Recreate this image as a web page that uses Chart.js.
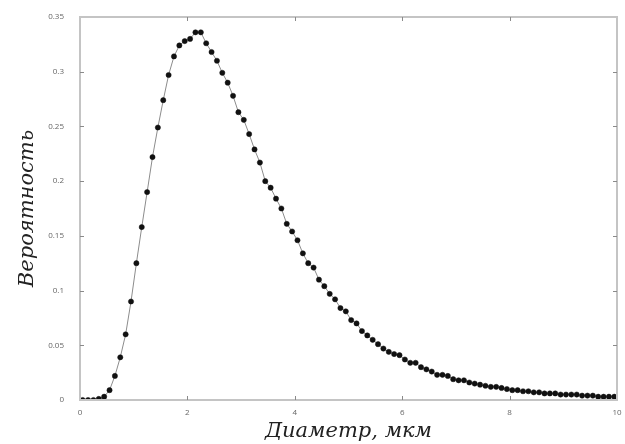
<!DOCTYPE html>
<html>
<head>
<meta charset="utf-8">
<script src="https://cdn.jsdelivr.net/npm/chart.js@4/dist/chart.umd.min.js"></script>
<style>
  html, body { margin: 0; padding: 0; background: #fff; }
  #wrap { width: 625px; height: 444px; }
</style>
</head>
<body>
<div id="wrap"><canvas id="out"></canvas></div>
<script>
// диаметр частиц, мкм (центры интервалов 0.05 ... 9.95)
const diameters = [];
for (let i = 0; i < 100; i++) diameters.push(+(0.05 + i * 0.1).toFixed(2));

// вероятность
const probability = [
	0, 0, 0, 0.001, 0.003, 0.009, 0.022, 0.039, 0.060, 0.090,
	0.125, 0.158, 0.190, 0.222, 0.249, 0.274, 0.297, 0.314, 0.324, 0.328,
	0.330, 0.336, 0.336, 0.326, 0.318, 0.310, 0.299, 0.290, 0.278, 0.263,
	0.256, 0.243, 0.229, 0.217, 0.200, 0.194, 0.184, 0.175, 0.161, 0.154,
	0.146, 0.134, 0.125, 0.121, 0.110, 0.104, 0.097, 0.092, 0.084, 0.081,
	0.073, 0.070, 0.063, 0.059, 0.055, 0.051, 0.047, 0.044, 0.042, 0.041,
	0.037, 0.034, 0.034, 0.030, 0.028, 0.026, 0.023, 0.023, 0.022, 0.019,
	0.018, 0.018, 0.016, 0.015, 0.014, 0.013, 0.012, 0.012, 0.011, 0.010,
	0.009, 0.009, 0.008, 0.008, 0.007, 0.007, 0.006, 0.006, 0.006, 0.005,
	0.005, 0.005, 0.005, 0.004, 0.004, 0.004, 0.003, 0.003, 0.003, 0.003
];

const xTicks = [0, 2, 4, 6, 8, 10];
const yTicks = [0, 0.05, 0.1, 0.15, 0.2, 0.25, 0.3, 0.35];

const points = diameters.map((d, i) => ({ x: d, y: probability[i] }));

// рамка и короткие засечки внутрь со всех сторон
const framePlugin = {
	id: "frame",
	afterDatasetsDraw(chart) {
		const ctx = chart.ctx;
		const a = chart.chartArea;
		const sx = chart.scales.x, sy = chart.scales.y;
		ctx.save();
		ctx.strokeStyle = "#c4c4c4";
		ctx.lineWidth = 2;
		ctx.strokeRect(a.left, a.top, a.right - a.left, a.bottom - a.top);
		ctx.strokeStyle = "#8a8a8a";
		ctx.lineWidth = 1;
		ctx.beginPath();
		xTicks.forEach(v => {
			const px = Math.round(sx.getPixelForValue(v)) + 0.5;
			if (v === 0 || v === 10) return;
			ctx.moveTo(px, a.bottom); ctx.lineTo(px, a.bottom - 4);
			ctx.moveTo(px, a.top); ctx.lineTo(px, a.top + 4);
		});
		yTicks.forEach(v => {
			const py = Math.round(sy.getPixelForValue(v)) + 0.5;
			if (v === 0 || v === 0.35) return;
			ctx.moveTo(a.left, py); ctx.lineTo(a.left + 4, py);
			ctx.moveTo(a.right, py); ctx.lineTo(a.right - 4, py);
		});
		ctx.stroke();
		ctx.restore();
	}
};

const titleFont = { family: "'DejaVu Serif', serif", style: "italic", size: 21 };
const tickFont = { family: "'Open Sans', sans-serif", size: 8 };

new Chart(document.getElementById("out").getContext("2d"), {
	type: "scatter",
	data: {
		datasets: [{
			data: points,
			showLine: true,
			borderColor: "#8c8c8c",
			borderWidth: 1,
			pointBackgroundColor: "#111",
			pointBorderColor: "#111",
			pointRadius: 2.6,
			pointBorderWidth: 0.5
		}]
	},
	options: {
		responsive: true,
		maintainAspectRatio: false,
		animation: false,
		layout: { padding: { top: 17, right: 8, left: 0, bottom: 0 } },
		plugins: { legend: { display: false }, tooltip: { enabled: false } },
		scales: {
			x: {
				type: "linear",
				min: 0, max: 10,
				afterBuildTicks: s => { s.ticks = xTicks.map(v => ({ value: v })); },
				afterFit: s => { s.height = 44; },
				grid: { display: false },
				border: { display: false },
				ticks: { font: tickFont, color: "#666", padding: 0, maxRotation: 0 },
				title: { display: true, text: "Диаметр, мкм", font: titleFont, color: "#222", padding: { top: 0, bottom: 0 } }
			},
			y: {
				min: 0, max: 0.35,
				afterBuildTicks: s => { s.ticks = yTicks.map(v => ({ value: v })); },
				afterFit: s => { s.width = 80; },
				grid: { display: false },
				border: { display: false },
				ticks: {
					font: tickFont, color: "#666", padding: 8,
					callback: v => String(+v.toFixed(2))
				},
				title: { display: true, text: "Вероятность", font: titleFont, color: "#222", padding: { top: 15, bottom: 0 } }
			}
		}
	},
	plugins: [framePlugin]
});
</script>
</body>
</html>
